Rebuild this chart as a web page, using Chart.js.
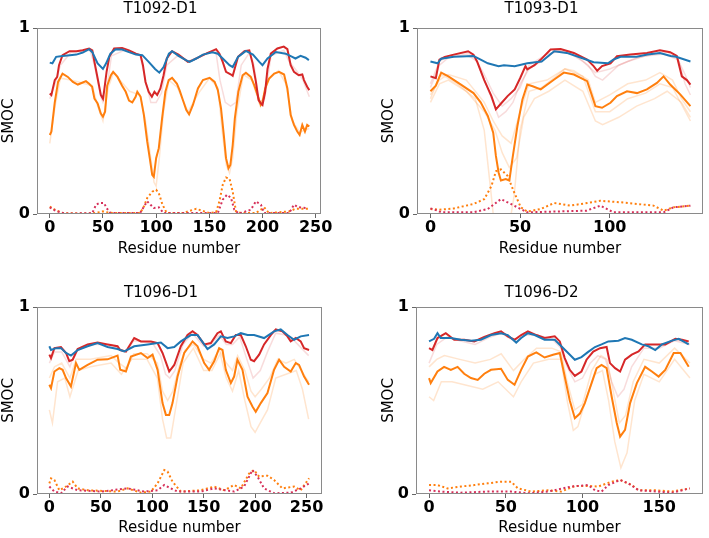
<!DOCTYPE html>
<html><head><meta charset="utf-8">
<script src="https://cdn.jsdelivr.net/npm/chart.js@4.4.1/dist/chart.umd.min.js"></script>
<style>
html,body{margin:0;padding:0;background:#fff;}
#wrap{position:relative;width:709px;height:538px;overflow:hidden;}
canvas{position:absolute;display:block;}
</style></head><body>
<div id="wrap">
<canvas id="c1" width="355" height="270" style="left:0;top:0"></canvas>
<canvas id="c2" width="354" height="270" style="left:355px;top:0"></canvas>
<canvas id="c3" width="355" height="268" style="left:0;top:270px"></canvas>
<canvas id="c4" width="354" height="268" style="left:355px;top:270px"></canvas>
</div>
<script>
// ---------- tick labels ----------
const yTicks = [0, 1];
const xTicks_T1092 = [0, 50, 100, 150, 200, 250];
const xTicks_T1093 = [0, 50, 100];
const xTicks_T1096D1 = [0, 50, 100, 150, 200, 250];
const xTicks_T1096D2 = [0, 50, 100, 150];

// ---------- T1092-D1 ----------
const T1092_blue_res = [0,2.5,6,12,19,25,31,37,40,45,50,53,57,62,68,74.5,81,87,93,99,103,107,112,115,121,128,131.5,137.7,144,153,158,162.6,169,172,177,184.4,191,197,200,204.7,212.5,221.8,228,231,235.8,240.5,243.6];
const T1092_blue = [0.814,0.81,0.845,0.85,0.854,0.857,0.868,0.886,0.87,0.81,0.78,0.81,0.862,0.886,0.884,0.87,0.857,0.854,0.818,0.78,0.76,0.79,0.862,0.875,0.85,0.827,0.818,0.836,0.857,0.87,0.862,0.836,0.80,0.79,0.845,0.877,0.857,0.818,0.80,0.836,0.871,0.862,0.845,0.836,0.85,0.84,0.827];
const T1092_red_res = [0,1.5,4.7,7,8.7,12,18.6,25,31,37,40,42,45,48,50,51,53.4,56,60.5,68,74.5,81,85.4,87.6,90,93,96,98.4,101,104,107,110,115,121,129.9,134.6,140.8,147,156.4,159.5,162.6,165.7,170.4,172,177,183,187.6,190.7,193.8,196.3,198.5,200,202.5,204.7,207.8,214,220,223.4,226.5,229.6,234,237.4,239,242,244];
const T1092_red = [0.648,0.64,0.72,0.737,0.8,0.854,0.875,0.875,0.88,0.89,0.88,0.818,0.73,0.64,0.62,0.657,0.764,0.845,0.89,0.893,0.88,0.862,0.854,0.8,0.71,0.657,0.63,0.657,0.64,0.675,0.746,0.836,0.875,0.857,0.818,0.827,0.845,0.862,0.886,0.862,0.818,0.764,0.75,0.743,0.845,0.875,0.88,0.81,0.71,0.6125,0.595,0.586,0.657,0.78,0.862,0.89,0.9,0.886,0.8,0.764,0.746,0.75,0.72,0.684,0.666];
const T1092_orange_res = [0,1.5,4.7,7.8,12,17,21.7,26.4,31,34,37,39.8,42,45,48,50,52,54,57.5,59.6,63.7,68,71.4,74.5,77.6,80.7,82.3,85.4,88.5,91.6,94,96.3,97.8,100,102.5,105.6,108.7,111.8,115,119.6,122,125.3,128.4,131,134.6,139.3,144,150.3,155,158,161,163.6,165.7,168,169.8,172,174,177.3,181.3,184.4,189,192.2,195.3,198.4,200,202.5,206.2,211,215.6,220.3,223.4,226.5,229.6,232.7,234.9,237.4,239.9,242,244];
const T1092_orange = [0.425,0.443,0.6,0.71,0.755,0.737,0.71,0.696,0.707,0.714,0.7,0.684,0.62,0.595,0.54,0.523,0.55,0.69,0.746,0.764,0.737,0.69,0.657,0.61,0.6,0.63,0.657,0.63,0.532,0.39,0.3,0.21,0.2,0.3,0.354,0.514,0.657,0.72,0.732,0.7,0.666,0.61,0.559,0.536,0.586,0.675,0.72,0.732,0.71,0.666,0.568,0.425,0.3,0.246,0.264,0.371,0.514,0.657,0.746,0.759,0.737,0.693,0.64,0.586,0.6,0.675,0.728,0.755,0.764,0.75,0.675,0.532,0.479,0.443,0.425,0.479,0.443,0.479,0.47];
const T1092_dotOrange_res = [0,4.7,12,37,48,50,52,60,85,88.5,91.6,96.3,100,102.5,106,110,125,137.7,150,156.4,159.5,162.6,165.7,169,172,175,180,193.8,201.6,206,225,231,243.6];
const T1092_dotOrange = [0.04,0.023,0.005,0.002,0.01,0.014,0.01,0.005,0.005,0.04,0.086,0.12,0.13,0.112,0.05,0.005,0.005,0.028,0.005,0.01,0.068,0.157,0.196,0.19,0.12,0.015,0.005,0.005,0.036,0.005,0.014,0.028,0.028];
const T1092_dotRed_res = [0,6,15,40,43.5,46.6,51,53.4,57,85,88.5,91.6,94.7,97.8,102.5,107,158,162.6,166.7,170.4,173.5,178,189,193.8,198.5,201.6,225,229.6,234,242];
const T1092_dotRed = [0.036,0.015,0.002,0.005,0.05,0.059,0.059,0.032,0.005,0.005,0.04,0.068,0.05,0.032,0.036,0.005,0.005,0.077,0.104,0.086,0.023,0.002,0.023,0.068,0.05,0.005,0.005,0.05,0.036,0.032];
const T1092_faintRed_res = [0,5,10,20,38,42,48,50,53,58,70,85,90,95,100,105,110,120,130,150,156,160,165,170,175,180,188,192,197,202,208,220,225,232,238,244];
const T1092_faintRed = [0.62,0.7,0.8,0.87,0.88,0.8,0.63,0.6,0.65,0.85,0.88,0.85,0.72,0.6,0.6,0.65,0.8,0.85,0.82,0.87,0.88,0.72,0.6,0.58,0.6,0.8,0.87,0.8,0.6,0.62,0.85,0.88,0.82,0.77,0.72,0.63];
const T1092_faintOrange_res = [0,5,10,20,40,45,50,55,60,75,85,90,95,98,100,103,107,112,120,130,140,150,158,162,166,169,172,176,182,190,198,205,215,222,228,235,244];
const T1092_faintOrange = [0.38,0.58,0.73,0.72,0.69,0.58,0.5,0.68,0.76,0.66,0.64,0.5,0.3,0.17,0.15,0.3,0.55,0.72,0.68,0.55,0.65,0.73,0.68,0.45,0.26,0.22,0.3,0.55,0.75,0.72,0.58,0.72,0.77,0.7,0.5,0.44,0.46];

// ---------- T1093-D1 ----------
const T1093_blue_res = [0,4,6,13,24,28,32,38,41,47,54,62,69,76,84,91,99,102,106,115,121,128,134,137,145];
const T1093_blue = [0.82,0.81,0.835,0.845,0.85,0.83,0.81,0.795,0.80,0.795,0.81,0.82,0.875,0.866,0.84,0.816,0.81,0.83,0.845,0.845,0.857,0.866,0.85,0.845,0.82];
const T1093_red_res = [0,3,5,8,13,21,24,26,30,34,36.5,39,43,47,50,53,54,58,61.5,67,72.6,80,87.4,91,93,95.7,100.4,104,111.5,120.7,128,133.7,137.4,140.2,143,145];
const T1093_red = [0.74,0.73,0.83,0.845,0.857,0.875,0.857,0.82,0.72,0.634,0.5625,0.59,0.634,0.67,0.73,0.795,0.777,0.80,0.83,0.884,0.887,0.866,0.83,0.795,0.77,0.795,0.81,0.848,0.857,0.866,0.88,0.87,0.85,0.74,0.72,0.696];
const T1093_orange_res = [0,3,6,10,17,24,28,32,35,36.5,38,39.3,42,44,45.7,48.5,51.3,54,57,61.5,69,74.4,80,87.4,92,95.7,100.4,104,109.6,115.2,120.7,126.3,130,133.7,139.3,145];
const T1093_orange = [0.66,0.69,0.76,0.74,0.696,0.65,0.6,0.527,0.4375,0.3125,0.223,0.18,0.1875,0.18,0.295,0.473,0.616,0.696,0.687,0.67,0.723,0.76,0.75,0.714,0.58,0.571,0.598,0.634,0.66,0.65,0.67,0.705,0.74,0.696,0.643,0.58];
const T1093_dotOrange_res = [0,5,13,24,30,34,36.5,39.3,43,46.7,50.4,54,61.5,69,78,87.4,94.8,106,124.4,130,135.6,145];
const T1093_dotOrange = [0.027,0.023,0.03,0.054,0.08,0.15,0.23,0.24,0.205,0.116,0.036,0.013,0.027,0.059,0.045,0.059,0.071,0.063,0.045,0.018,0.036,0.045];
const T1093_dotRed_res = [0,4,6,24,32,39.3,44.8,54,87,94.8,102,130,135.6,145];
const T1093_dotRed = [0.03,0.018,0.009,0.009,0.027,0.08,0.054,0.009,0.018,0.045,0.009,0.009,0.036,0.045];
const T1093_faintRedA_res = [0,5,10,20,25,30,35,38,42,46,50,55,62,70,80,88,92,96,105,115,125,132,138,142,145];
const T1093_faintRedA = [0.7,0.82,0.85,0.87,0.84,0.72,0.6,0.52,0.55,0.6,0.7,0.78,0.82,0.88,0.86,0.8,0.74,0.72,0.8,0.84,0.86,0.87,0.84,0.7,0.64];
const T1093_faintRedB_res = [0,5,10,20,26,30,35,40,45,50,55,65,75,85,92,100,110,120,130,138,142,145];
const T1093_faintRedB = [0.68,0.8,0.84,0.86,0.82,0.75,0.65,0.58,0.62,0.68,0.8,0.86,0.88,0.82,0.76,0.78,0.82,0.85,0.86,0.83,0.75,0.68];
const T1093_faintOrangeA_res = [0,5,8,15,25,30,33.7,35,45,46.7,50,55,62,70,75,80,88,92,100,110,120,128,135,140,145];
const T1093_faintOrangeA = [0.64,0.72,0.74,0.7,0.62,0.45,0.12,0,0,0.1,0.45,0.66,0.68,0.74,0.78,0.77,0.72,0.6,0.64,0.7,0.72,0.76,0.72,0.62,0.55];
const T1093_faintOrangeB_res = [0,5,10,20,30,35,40,45,50,55,65,75,85,92,100,110,120,128,135,145];
const T1093_faintOrangeB = [0.62,0.74,0.75,0.72,0.6,0.5,0.42,0.38,0.55,0.7,0.72,0.78,0.74,0.55,0.55,0.62,0.65,0.7,0.68,0.5];
const T1093_faintOrangeC_res = [0,5,10,20,30,36,40,44,48,52,58,66,75,85,92,96,105,115,125,132,140,145];
const T1093_faintOrangeC = [0.6,0.7,0.72,0.66,0.55,0.45,0.33,0.25,0.3,0.52,0.62,0.66,0.72,0.66,0.5,0.48,0.52,0.58,0.62,0.66,0.6,0.52];

// ---------- T1096-D1 ----------
const T1096D1_blue_res = [0,1.6,6.5,11.3,16.2,21,27.5,37.2,46.9,56.6,66.3,72.8,82.5,95.5,108.4,114.9,121.4,127.8,137.5,144,150.5,153.7,160.2,166.7,173.1,179.6,186.1,192.6,199,208.7,218.4,224.9,231.4,237.9,244.3,252.4];
const T1096D1_blue = [0.79,0.77,0.78,0.78,0.754,0.74,0.77,0.79,0.807,0.786,0.775,0.762,0.79,0.80,0.81,0.78,0.786,0.816,0.85,0.85,0.80,0.775,0.80,0.843,0.834,0.843,0.86,0.85,0.85,0.834,0.87,0.88,0.85,0.825,0.843,0.85];
const T1096D1_red_res = [0,1.6,4.9,11.3,16.2,19.4,22.7,27.5,37.2,46.9,56.6,66.3,68.9,74.4,82.5,89,98.7,105.2,110,114.9,116.5,121.4,127.8,134.3,139.2,144,150.5,157,163.4,166.7,171.5,176.4,181.2,186.1,190.9,195.8,199,203.9,208.7,215.2,220.1,226.5,231.4,234.6,239.5,244.3,247.6,252.4];
const T1096D1_red = [0.745,0.727,0.78,0.786,0.754,0.71,0.718,0.775,0.80,0.81,0.80,0.79,0.77,0.762,0.834,0.816,0.816,0.807,0.754,0.68,0.655,0.69,0.79,0.85,0.87,0.85,0.80,0.807,0.86,0.87,0.816,0.807,0.85,0.85,0.79,0.718,0.71,0.745,0.80,0.85,0.88,0.87,0.843,0.816,0.834,0.816,0.78,0.77];
const T1096D1_orange_res = [0,1.6,4.9,9.7,12.9,16.2,21,25.9,29.1,37.2,46.9,56.6,66.3,68.9,74.4,79.3,89,95.5,100.3,105.2,110,113.3,116.5,119.7,124.6,131.1,139.2,144,150.5,155.3,160.2,165,168.3,171.5,176.4,179.6,182.8,187.7,192.6,197.4,200.6,205.5,212,218.4,223.3,228.2,234.6,239.5,242.7,247.6,252.4];
const T1096D1_orange = [0.584,0.566,0.655,0.673,0.664,0.62,0.575,0.70,0.664,0.69,0.718,0.72,0.74,0.664,0.655,0.735,0.754,0.727,0.745,0.664,0.486,0.423,0.423,0.486,0.628,0.754,0.816,0.79,0.70,0.664,0.71,0.78,0.77,0.664,0.593,0.628,0.718,0.664,0.52,0.468,0.44,0.486,0.54,0.664,0.718,0.68,0.655,0.70,0.69,0.628,0.584];
const T1096D1_dotOrange_res = [0,1.6,4.9,9.7,16.2,22.7,27.5,37.2,66.3,76,89,98.7,105.2,111.7,114.9,119.7,127.8,147.2,160.2,169.9,179.6,186.1,194.2,199,203.9,212,218.4,226.5,237.9,244.3,252.4];
const T1096D1_dotOrange = [0.057,0.084,0.075,0.02,0.04,0.066,0.03,0.02,0.013,0.03,0.007,0.013,0.057,0.128,0.12,0.066,0.013,0.02,0.04,0.02,0.048,0.03,0.11,0.128,0.093,0.098,0.075,0.03,0.04,0.02,0.084];
const T1096D1_dotRed_res = [0,4.9,11.3,17.8,27.5,50.2,76,92.2,105.2,111.7,118.1,124.6,147.2,160.2,179.6,189.3,197.4,202.3,208.7,218.4,234.6,244.3,252.4];
const T1096D1_dotRed = [0.04,0.013,0.004,0.04,0.02,0.013,0.03,0.013,0.02,0.048,0.03,0.013,0.013,0.03,0.013,0.04,0.128,0.093,0.03,0.004,0.007,0.03,0.057];
const T1096D1_faintRed_res = [0,5,12,20,25,40,60,70,75,82,100,108,113,117,122,130,139,150,157,165,172,178,185,192,198,205,212,220,230,238,245,252];
const T1096D1_faintRed = [0.7,0.76,0.76,0.68,0.76,0.8,0.8,0.77,0.76,0.82,0.81,0.74,0.64,0.62,0.66,0.8,0.86,0.79,0.8,0.85,0.8,0.8,0.84,0.72,0.62,0.66,0.76,0.86,0.85,0.82,0.78,0.74];
const T1096D1_faintOrangeA_res = [0,5,12,20,26,40,60,68,75,82,95,105,110,115,120,126,132,140,150,157,165,172,178,183,190,196,200,206,214,222,230,238,245,252];
const T1096D1_faintOrangeA = [0.62,0.68,0.7,0.62,0.72,0.72,0.74,0.7,0.67,0.75,0.75,0.7,0.55,0.5,0.55,0.68,0.77,0.8,0.72,0.7,0.77,0.7,0.66,0.74,0.66,0.55,0.52,0.56,0.62,0.72,0.7,0.72,0.66,0.6];
const T1096D1_faintOrangeB_res = [0,3,8,15,20,28,40,60,70,80,95,105,110,114,118,124,130,140,150,158,166,172,178,184,190,196,200,205,212,220,230,240,246,252];
const T1096D1_faintOrangeB = [0.45,0.38,0.6,0.62,0.52,0.66,0.68,0.7,0.64,0.72,0.72,0.62,0.4,0.3,0.3,0.5,0.7,0.78,0.66,0.66,0.75,0.62,0.55,0.66,0.5,0.36,0.33,0.38,0.45,0.62,0.64,0.66,0.56,0.4];

// ---------- T1096-D2 ----------
const T1096D2_blue_res = [0,3.3,5.5,7.6,14.2,20.7,27.3,33.8,40.4,46.9,51.3,56.8,60,64.4,68.8,75.3,81.9,86.2,90.6,95,99.3,103.7,108.1,112.4,116.8,123.4,127.7,132.1,138.6,143,147.4,151.7,158.3,162.7,169.2];
const T1096D2_blue = [0.816,0.83,0.86,0.834,0.834,0.825,0.82,0.825,0.85,0.86,0.85,0.81,0.834,0.86,0.85,0.825,0.825,0.79,0.754,0.718,0.732,0.76,0.786,0.80,0.816,0.82,0.834,0.825,0.80,0.79,0.77,0.80,0.82,0.83,0.80];
const T1096D2_red_res = [0,2.2,5.5,10.9,16.4,22.9,29.5,36,42.6,46.9,51.3,55.7,60,64.4,69.9,75.3,81.9,85.2,88.4,91.7,95,99.3,102.6,107,111.4,115.7,117.9,121.2,124.5,127.7,132.1,136.5,140.8,147.4,153.9,160.5,164.8,169.2];
const T1096D2_red = [0.78,0.77,0.834,0.86,0.825,0.825,0.816,0.84,0.86,0.87,0.843,0.825,0.85,0.87,0.85,0.834,0.843,0.816,0.727,0.664,0.632,0.655,0.718,0.762,0.78,0.786,0.70,0.673,0.655,0.718,0.745,0.762,0.80,0.80,0.80,0.83,0.825,0.816];
const T1096D2_orange_res = [0,1.1,5.5,9.8,14.2,18.6,22.9,27.3,31.7,36,40.4,46.9,51.3,55.7,60,64.4,69.9,75.3,80.8,85.2,88.4,91.7,95,98.3,101.5,105.9,109.2,112.4,115.7,119,122.3,124.5,127.7,131,135.4,140.8,145.2,149.6,153.9,159.4,163.8,169.2];
const T1096D2_orange = [0.62,0.593,0.655,0.68,0.664,0.68,0.643,0.62,0.61,0.643,0.664,0.67,0.61,0.584,0.664,0.735,0.757,0.73,0.745,0.754,0.628,0.50,0.405,0.43,0.486,0.593,0.673,0.69,0.673,0.52,0.38,0.307,0.343,0.486,0.593,0.68,0.655,0.628,0.664,0.754,0.754,0.68];
const T1096D2_dotOrange_res = [0,5.5,12,20.7,29.5,38.2,46.9,53.5,57.9,66.6,77.5,86.2,95,103.7,110.3,119,124.5,132.1,136.5,147.4,158.3,169.9];
const T1096D2_dotOrange = [0.048,0.048,0.03,0.04,0.048,0.057,0.066,0.066,0.03,0.013,0.02,0.013,0.043,0.043,0.04,0.066,0.075,0.048,0.02,0.02,0.013,0.03];
const T1096D2_dotRed_res = [0,7.6,20.7,38.2,53.5,64.4,77.5,92.8,103.7,108.1,112.4,116.8,124.5,129.9,136.5,158.3,169.9];
const T1096D2_dotRed = [0.02,0.013,0.007,0.013,0.013,0.004,0.013,0.04,0.048,0.02,0.013,0.048,0.075,0.057,0.02,0.007,0.03];
const T1096D2_faintRed_res = [0,5,12,20,30,40,47,55,62,70,80,86,90,95,100,105,110,115,119,123,127,132,140,150,160,170];
const T1096D2_faintRed = [0.7,0.8,0.84,0.82,0.8,0.84,0.86,0.82,0.85,0.85,0.83,0.78,0.68,0.6,0.62,0.7,0.74,0.72,0.6,0.52,0.56,0.68,0.78,0.78,0.82,0.8];
const T1096D2_faintOrangeA_res = [0,5,10,20,30,40,47,55,62,70,80,86,90,95,100,106,112,116,120,124,128,133,140,150,160,170];
const T1096D2_faintOrangeA = [0.68,0.72,0.74,0.72,0.7,0.72,0.75,0.66,0.72,0.78,0.78,0.76,0.6,0.45,0.48,0.66,0.74,0.72,0.55,0.38,0.42,0.6,0.72,0.7,0.78,0.7];
const T1096D2_faintOrangeB_res = [0,3,8,15,25,35,45,55,60,68,78,86,90,94,97,102,108,113,117,121,125,129,134,140,150,160,170];
const T1096D2_faintOrangeB = [0.52,0.5,0.6,0.6,0.58,0.56,0.6,0.52,0.6,0.7,0.72,0.72,0.5,0.34,0.36,0.5,0.64,0.66,0.5,0.28,0.14,0.22,0.5,0.64,0.6,0.72,0.62];

// ---------- styling ----------
const FONT = "'DejaVu Sans', 'Liberation Sans', sans-serif";
const BLUE = '#1f77b4', RED = '#d62728', ORANGE = '#ff7f0e';
const DOT_RED = '#d6305a';
const FAINT_RED = 'rgba(214,39,40,0.16)', FAINT_ORANGE = 'rgba(255,127,14,0.2)';

function pts(xs, ys) { return xs.map((x, i) => ({ x: x, y: ys[i] })); }
function solid(xs, ys, color, w) {
  return { data: pts(xs, ys), borderColor: color, borderWidth: w, pointRadius: 0, tension: 0, fill: false };
}
function dotted(xs, ys, color) {
  return { data: pts(xs, ys), borderColor: color, borderWidth: 2, borderDash: [2, 2.5], pointRadius: 0, tension: 0, fill: false };
}

const boxPlugin = {
  id: 'box',
  afterDatasetsDraw(chart) {
    const { ctx, chartArea: a } = chart;
    ctx.save();
    ctx.strokeStyle = '#8a8a8a';
    ctx.lineWidth = 1;
    ctx.strokeRect(Math.round(a.left) + 0.5, Math.round(a.top) + 0.5, Math.round(a.right - a.left) - 1, Math.round(a.bottom - a.top) - 1);
    ctx.restore();
  }
};

function makePanel(id, p) {
  const datasets = [
    solid(p.blue[0], p.blue[1], BLUE, 2),
    solid(p.red[0], p.red[1], RED, 2),
    solid(p.orange[0], p.orange[1], ORANGE, 2),
    dotted(p.dotRed[0], p.dotRed[1], DOT_RED),
    dotted(p.dotOrange[0], p.dotOrange[1], ORANGE)
  ];
  p.faintRed.forEach(s => datasets.push(solid(s[0], s[1], FAINT_RED, 1.5)));
  p.faintOrange.forEach(s => datasets.push(solid(s[0], s[1], FAINT_ORANGE, 1.5)));

  new Chart(document.getElementById(id), {
    type: 'line',
    data: { datasets: datasets },
    plugins: [boxPlugin],
    options: {
      responsive: false,
      animation: false,
      events: [],
      layout: { padding: p.pad },
      plugins: {
        legend: { display: false },
        tooltip: { enabled: false },
        title: {
          display: true, text: p.title, color: '#000',
          font: { family: FONT, size: 15, weight: 'normal' },
          padding: p.titlePad
        }
      },
      scales: {
        x: {
          type: 'linear', min: p.xmin, max: p.xmax,
          afterBuildTicks: s => { s.ticks = p.xticks.map(v => ({ value: v })); },
          afterFit: s => { s.height = p.xh; },
          ticks: { color: '#000', font: { family: FONT, size: 16, weight: 'bold' }, padding: 0, maxRotation: 0, autoSkip: false },
          grid: { display: true, drawOnChartArea: false, drawTicks: true, tickLength: 4, color: '#666', lineWidth: 1 },
          border: { display: false },
          title: { display: true, text: 'Residue number', color: '#000', font: { family: FONT, size: 15 }, padding: { top: 0, bottom: p.xTitlePad } }
        },
        y: {
          type: 'linear', min: 0, max: 1,
          afterBuildTicks: s => { s.ticks = yTicks.map(v => ({ value: v })); },
          afterFit: s => { s.width = p.yw; },
          ticks: { color: '#000', font: { family: FONT, size: 16, weight: 'bold' }, padding: 3 },
          grid: { display: true, drawOnChartArea: false, drawTicks: true, tickLength: 4, color: '#666', lineWidth: 1 },
          border: { display: false },
          title: { display: true, text: 'SMOC', color: '#000', font: { family: FONT, size: 15 }, padding: { top: 0, bottom: 0 } }
        }
      }
    }
  });
}

makePanel('c1', {
  title: 'T1092-D1', xmin: -12, xmax: 255, xticks: xTicks_T1092,
  pad: { left: 0, top: 0, right: 34, bottom: 0 }, titlePad: { top: 0, bottom: 10 },
  xh: 56, xTitlePad: 12, yw: 37,
  blue: [T1092_blue_res, T1092_blue], red: [T1092_red_res, T1092_red], orange: [T1092_orange_res, T1092_orange],
  dotRed: [T1092_dotRed_res, T1092_dotRed], dotOrange: [T1092_dotOrange_res, T1092_dotOrange],
  faintRed: [[T1092_faintRed_res, T1092_faintRed]],
  faintOrange: [[T1092_faintOrange_res, T1092_faintOrange]]
});
makePanel('c2', {
  title: 'T1093-D1', xmin: -7.5, xmax: 152, xticks: xTicks_T1093,
  pad: { left: 25, top: 0, right: 6, bottom: 0 }, titlePad: { top: 0, bottom: 10 },
  xh: 56, xTitlePad: 12, yw: 37,
  blue: [T1093_blue_res, T1093_blue], red: [T1093_red_res, T1093_red], orange: [T1093_orange_res, T1093_orange],
  dotRed: [T1093_dotRed_res, T1093_dotRed], dotOrange: [T1093_dotOrange_res, T1093_dotOrange],
  faintRed: [[T1093_faintRedA_res, T1093_faintRedA], [T1093_faintRedB_res, T1093_faintRedB]],
  faintOrange: [[T1093_faintOrangeA_res, T1093_faintOrangeA], [T1093_faintOrangeB_res, T1093_faintOrangeB], [T1093_faintOrangeC_res, T1093_faintOrangeC]]
});
makePanel('c3', {
  title: 'T1096-D1', xmin: -12, xmax: 265, xticks: xTicks_T1096D1,
  pad: { left: 0, top: 0, right: 33, bottom: 0 }, titlePad: { top: 14, bottom: 5 },
  xh: 44, xTitlePad: 1, yw: 37,
  blue: [T1096D1_blue_res, T1096D1_blue], red: [T1096D1_red_res, T1096D1_red], orange: [T1096D1_orange_res, T1096D1_orange],
  dotRed: [T1096D1_dotRed_res, T1096D1_dotRed], dotOrange: [T1096D1_dotOrange_res, T1096D1_dotOrange],
  faintRed: [[T1096D1_faintRed_res, T1096D1_faintRed]],
  faintOrange: [[T1096D1_faintOrangeA_res, T1096D1_faintOrangeA], [T1096D1_faintOrangeB_res, T1096D1_faintOrangeB]]
});
makePanel('c4', {
  title: 'T1096-D2', xmin: -8.5, xmax: 178.5, xticks: xTicks_T1096D2,
  pad: { left: 25, top: 0, right: 6, bottom: 0 }, titlePad: { top: 14, bottom: 5 },
  xh: 44, xTitlePad: 1, yw: 36,
  blue: [T1096D2_blue_res, T1096D2_blue], red: [T1096D2_red_res, T1096D2_red], orange: [T1096D2_orange_res, T1096D2_orange],
  dotRed: [T1096D2_dotRed_res, T1096D2_dotRed], dotOrange: [T1096D2_dotOrange_res, T1096D2_dotOrange],
  faintRed: [[T1096D2_faintRed_res, T1096D2_faintRed]],
  faintOrange: [[T1096D2_faintOrangeA_res, T1096D2_faintOrangeA], [T1096D2_faintOrangeB_res, T1096D2_faintOrangeB]]
});
</script>
</body></html>
